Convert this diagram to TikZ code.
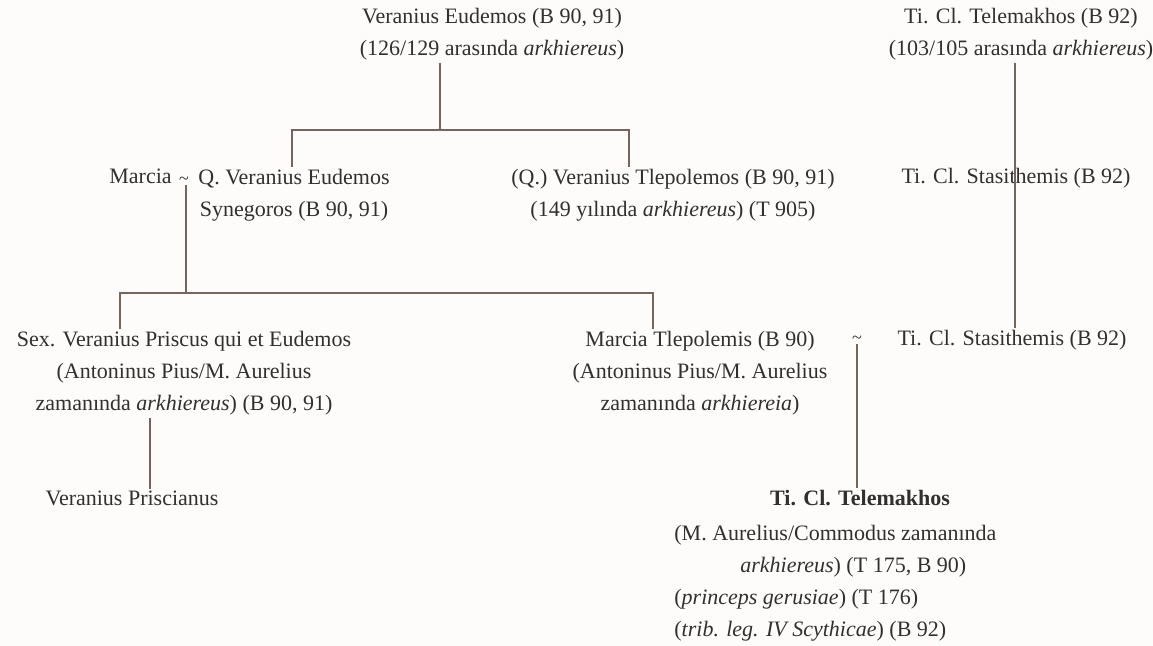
\documentclass[tikz,border=0pt]{standalone}
\usepackage{fontspec}
\setmainfont{Liberation Serif}
\usetikzlibrary{positioning}
\definecolor{inkgray}{RGB}{50,48,46}
\definecolor{linebrown}{RGB}{120,100,95}
\definecolor{paper}{RGB}{253,252,250}

\begin{document}
\begin{tikzpicture}[x=0.5pt,y=-0.5pt,
    person/.style={inner sep=1pt, align=center, text=inkgray, font=\fontsize{11}{16}\selectfont},
    kin/.style={draw=linebrown, line width=0.75pt},
    wed/.style={inner sep=0pt, text=inkgray, font=\small}]
  \fill[paper] (0,0) rectangle (1153,646);
  \useasboundingbox (0,0) rectangle (1153,646);

  % first generation
  \node [person, anchor=north] (vereud) at (492,6) {Veranius Eudemos (B 90, 91)\\(126/129 arasında \textit{arkhiereus})};
  \node [person, anchor=north] (telold) at (1021,6) {Ti. Cl. Telemakhos (B 92)\\(103/105 arasında \textit{arkhiereus})};

  % second generation
  \node [person, anchor=base west] (marcia) at (107,184) {Marcia};
  \node [wed] (wed1) at (184,181) {\textasciitilde};
  \node [person, anchor=north] (qveud) at (294,167) {Q. Veranius Eudemos\\Synegoros (B 90, 91)};
  \node [person, anchor=north] (tlep) at (673,167) {(Q.) Veranius Tlepolemos (B 90, 91)\\(149 yılında \textit{arkhiereus}) (T 905)};
  \node [person, anchor=base] (stasA) at (1016,184) {Ti. Cl. Stasithemis (B 92)};

  % third generation
  \node [person, anchor=north] (sexv) at (184,329) {Sex. Veranius Priscus qui et Eudemos\\(Antoninus Pius/M. Aurelius\\zamanında \textit{arkhiereus}) (B 90, 91)};
  \node [person, anchor=north] (mtlep) at (700,329) {Marcia Tlepolemis (B 90)\\(Antoninus Pius/M. Aurelius\\zamanında \textit{arkhiereia})};
  \node [wed] (wed2) at (857,340) {\textasciitilde};
  \node [person, anchor=base] (stasB) at (1012,346) {Ti. Cl. Stasithemis (B 92)};

  % fourth generation
  \node [person, anchor=base] (prisc) at (132,506) {Veranius Priscianus};
  \node [person, anchor=base, font=\fontsize{11}{16}\selectfont\bfseries] (telnew) at (860,506) {Ti. Cl. Telemakhos};
  \node [person, anchor=north west, align=left] (teldet) at (672,523) {(M. Aurelius/Commodus zamanında\\\hspace*{33pt}\textit{arkhiereus}) (T 175, B 90)\\(\textit{princeps gerusiae}) (T 176)\\(\textit{trib. leg. IV Scythicae}) (B 92)};

  % descent lines
  \coordinate (fork1) at (440,130);
  \coordinate (fork1l) at (292,130);
  \coordinate (fork1r) at (629,130);
  \coordinate (fork2) at (186,293);
  \coordinate (fork2l) at (120,293);
  \coordinate (fork2r) at (653,293);
  \coordinate (rline) at (1015,0);
  \coordinate (pline) at (150,0);
  \draw [kin] (vereud.south -| fork1) -- (fork1);
  \draw [kin] (qveud.north -| fork1l) -- (fork1l) -- (fork1r) -- (tlep.north -| fork1r);
  \draw [kin] (wed1.south -| fork2) -- (fork2);
  \draw [kin] (sexv.north -| fork2l) -- (fork2l) -- (fork2r) -- (mtlep.north -| fork2r);
  \draw [kin] (telold.south -| rline) -- (stasB.north -| rline);
  \draw [kin] (sexv.south -| pline) -- (prisc.north -| pline);
  \draw [kin] (wed2.south) -- (wed2.south |- telnew.north);
\end{tikzpicture}
\end{document}
